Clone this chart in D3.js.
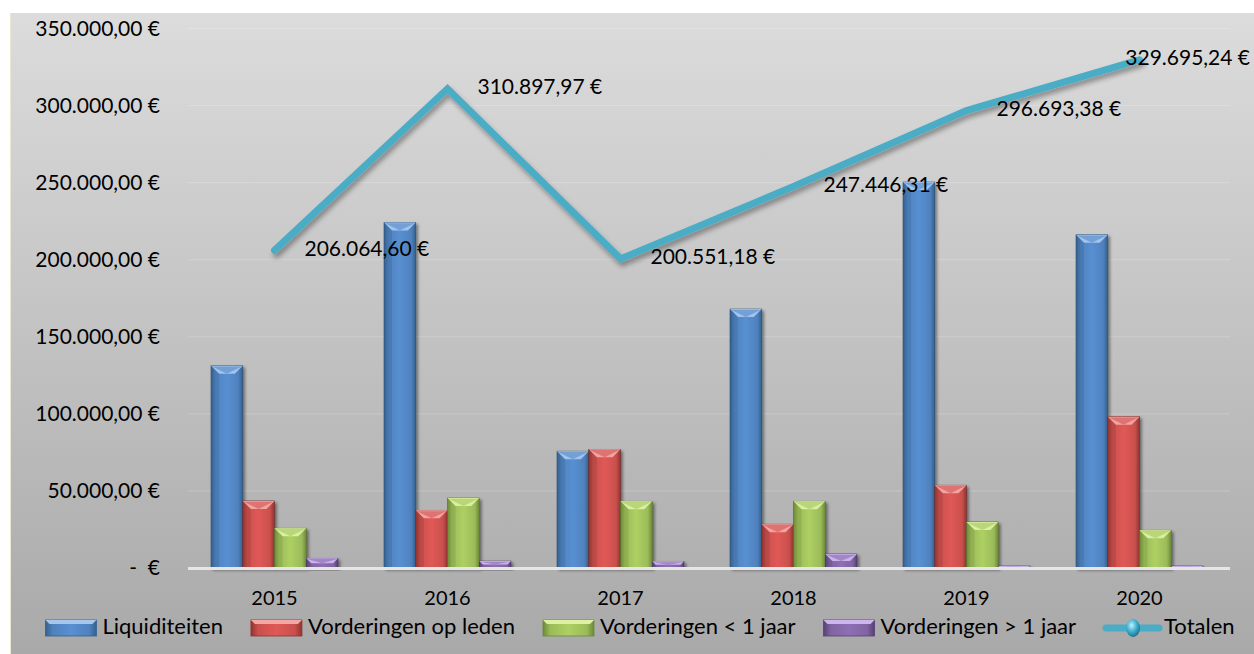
<!DOCTYPE html>
<html>
<head>
<meta charset="utf-8">
<script src="https://cdn.jsdelivr.net/npm/d3@7"></script>
<style>
  html, body { margin: 0; padding: 0; background: #fff; }
  svg { display: block; font-family: Lato, "Open Sans", sans-serif; }
  .tick text { white-space: pre; }
</style>
</head>
<body>
<svg id="chart" width="1254" height="654"></svg>
<script>
// Values (euro).
const YEARS = ['2015', '2016', '2017', '2018', '2019', '2020'];
const LIQUIDITEITEN = [131200, 224200, 75800, 168000, 250400, 216200];
const VORDERINGEN_LEDEN = [43500, 37400, 77000, 28400, 53700, 98200];
const VORDERINGEN_KORT = [25800, 45400, 43300, 43300, 29900, 24500];
const VORDERINGEN_LANG = [6300, 4500, 4300, 9100, 1300, 1300];
const TOTALEN = [206064.60, 310897.97, 200551.18, 247446.31, 296693.38, 329695.24];
const Y_TICKS = [0, 50000, 100000, 150000, 200000, 250000, 300000, 350000];

const SERIES = [
  { name: 'Liquiditeiten', values: LIQUIDITEITEN, base: '#4f81bd', light: '#a7c6ee', dark: '#33608f' },
  { name: 'Vorderingen op leden', values: VORDERINGEN_LEDEN, base: '#c9504d', light: '#f2a9a6', dark: '#8f3431' },
  { name: 'Vorderingen < 1 jaar', values: VORDERINGEN_KORT, base: '#9bbb59', light: '#dcf1a4', dark: '#6c8a36' },
  { name: 'Vorderingen > 1 jaar', values: VORDERINGEN_LANG, base: '#8064a2', light: '#cdb6ee', dark: '#574075' },
];
const LINE_COLOR = '#4bacc6';

const W = 1254, H = 654;
const PLOT = { left: 188, right: 1226, top: 28.5, bottom: 568 };

const nl = d3.formatLocale({ decimal: ',', thousands: '.', grouping: [3], currency: ['', ''] });
const fmt = nl.format(',.2f');
const euro = (v) => (v === 0 ? '-  €' : `${fmt(v)} €`);

const svg = d3.select('#chart');
const defs = svg.append('defs');

// chart background: grey vertical gradient
const bg = defs.append('linearGradient').attr('id', 'bg').attr('x1', 0).attr('y1', 0).attr('x2', 0).attr('y2', 1);
bg.append('stop').attr('offset', '0%').attr('stop-color', '#dcdcdc');
bg.append('stop').attr('offset', '100%').attr('stop-color', '#a9a9a9');

// horizontal shading per series, gives the bevelled column look
SERIES.forEach((s, i) => {
  const g = defs.append('linearGradient').attr('id', `bar${i}`).attr('x1', 0).attr('y1', 0).attr('x2', 1).attr('y2', 0);
  g.append('stop').attr('offset', '0%').attr('stop-color', s.dark);
  g.append('stop').attr('offset', '14%').attr('stop-color', s.base);
  g.append('stop').attr('offset', '50%').attr('stop-color', d3.color(s.base).brighter(0.3));
  g.append('stop').attr('offset', '86%').attr('stop-color', s.base);
  g.append('stop').attr('offset', '100%').attr('stop-color', s.dark);
});

const shadow = defs.append('filter').attr('id', 'shadow').attr('x', '-20%').attr('y', '-20%').attr('width', '150%').attr('height', '150%');
shadow.append('feDropShadow').attr('dx', 2).attr('dy', 2).attr('stdDeviation', 1.6).attr('flood-color', '#000').attr('flood-opacity', 0.45);
const lineShadow = defs.append('filter').attr('id', 'lineShadow').attr('x', '-10%').attr('y', '-10%').attr('width', '120%').attr('height', '130%');
lineShadow.append('feDropShadow').attr('dx', 2).attr('dy', 4).attr('stdDeviation', 2.5).attr('flood-color', '#000').attr('flood-opacity', 0.35);

const sphere = defs.append('radialGradient').attr('id', 'sphere').attr('cx', '40%').attr('cy', '35%').attr('r', '65%');
sphere.append('stop').attr('offset', '0%').attr('stop-color', '#bff0fb');
sphere.append('stop').attr('offset', '55%').attr('stop-color', '#3fb0d0');
sphere.append('stop').attr('offset', '100%').attr('stop-color', '#1f7390');

svg.append('rect').attr('width', W).attr('height', H).attr('fill', '#fff');
svg.append('rect').attr('x', 11).attr('y', 13).attr('width', W - 11).attr('height', H - 13).attr('fill', 'url(#bg)');
svg.append('line').attr('x1', 10.5).attr('x2', 10.5).attr('y1', 13).attr('y2', H).attr('stroke', '#ebe6d6');

// scales
const x0 = d3.scaleBand().domain(YEARS).range([PLOT.left, PLOT.right]).paddingInner(0.266).paddingOuter(0.133);
const x1 = d3.scaleBand().domain(d3.range(SERIES.length)).range([0, x0.bandwidth()]);
const y = d3.scaleLinear().domain([0, 350000]).range([PLOT.bottom, PLOT.top]);

// gridlines
svg.append('g')
  .selectAll('line')
  .data(Y_TICKS.filter((t) => t > 0))
  .join('line')
  .attr('x1', PLOT.left)
  .attr('x2', 1230)
  .attr('y1', (d) => y(d))
  .attr('y2', (d) => y(d))
  .attr('stroke', 'rgba(255,255,255,0.2)')
  .attr('stroke-width', 1);

// y axis labels
const yAxis = svg.append('g')
  .attr('transform', 'translate(160,0)')
  .call(d3.axisLeft(y).tickValues(Y_TICKS).tickSize(0).tickPadding(0).tickFormat(euro));
yAxis.select('.domain').remove();
yAxis.selectAll('text').attr('fill', '#000').style('font-size', '21px').style('font-family', 'Lato');

// bars
const groups = svg.append('g')
  .selectAll('g.year')
  .data(YEARS)
  .join('g')
  .attr('class', 'year')
  .attr('transform', (d) => `translate(${x0(d)},0)`);

const bars = groups.selectAll('g.bar')
  .data((yr, j) => SERIES.map((s, i) => ({ i, s, v: s.values[j] })))
  .join('g')
  .attr('class', 'bar')
  .attr('filter', 'url(#shadow)');

function bevel(d) {
  const bx = x1(d.i), bw = x1.bandwidth();
  const top = y(d.v), h = PLOT.bottom - top;
  const b = Math.min(8, h / 2, bw / 3);
  return { bx, bw, top, h, b };
}

bars.append('rect')
  .attr('x', (d) => x1(d.i))
  .attr('y', (d) => y(d.v))
  .attr('width', x1.bandwidth())
  .attr('height', (d) => PLOT.bottom - y(d.v))
  .attr('fill', (d) => `url(#bar${d.i})`)
  .attr('stroke', (d) => d3.color(d.s.dark).darker(0.6))
  .attr('stroke-width', 0.6);

// top chamfer: light trapezoid with a darker V underneath
bars.append('path')
  .attr('d', (d) => {
    const { bx, bw, top, b } = bevel(d);
    return `M${bx},${top} L${bx + bw},${top} L${bx + bw - b},${top + b} L${bx + b},${top + b} Z`;
  })
  .attr('fill', (d) => d.s.light)
  .attr('opacity', 0.95);
bars.append('path')
  .attr('d', (d) => {
    const { bx, bw, top, b } = bevel(d);
    return `M${bx + 1},${top + 0.8} L${bx + bw / 2},${top + b} L${bx + bw - 1},${top + 0.8}`;
  })
  .attr('fill', (d) => d3.color(d.s.base).brighter(0.15))
  .attr('opacity', 0.6);
bars.append('path')
  .attr('d', (d) => {
    const { bx, bw, top, h, b } = bevel(d);
    return `M${bx},${top} L${bx + b},${top + b} L${bx + b},${top + h} L${bx},${top + h} Z`;
  })
  .attr('fill', (d) => d.s.dark)
  .attr('opacity', 0.25);

// baseline
svg.append('line')
  .attr('x1', PLOT.left).attr('x2', 1230)
  .attr('y1', PLOT.bottom + 0.5).attr('y2', PLOT.bottom + 0.5)
  .attr('stroke', '#e6e6e6').attr('stroke-width', 3);

// x labels
svg.append('g')
  .selectAll('text')
  .data(YEARS)
  .join('text')
  .attr('x', (d) => x0(d) + x0.bandwidth() / 2)
  .attr('y', 600)
  .attr('text-anchor', 'middle')
  .attr('dominant-baseline', 'middle')
  .style('font-size', '20px')
  .attr('fill', '#000')
  .text((d) => d);

// Totalen line
const lineGen = d3.line()
  .x((d, j) => x0(YEARS[j]) + x0.bandwidth() / 2)
  .y((d) => y(d));
svg.append('path')
  .datum(TOTALEN)
  .attr('d', lineGen)
  .attr('fill', 'none')
  .attr('stroke', LINE_COLOR)
  .attr('stroke-width', 7)
  .attr('stroke-linecap', 'round')
  .attr('stroke-linejoin', 'miter')
  .attr('filter', 'url(#lineShadow)');

// data labels, pushed left when they would run off the right edge
const labels = svg.append('g')
  .selectAll('text')
  .data(TOTALEN)
  .join('text')
  .attr('y', (d) => y(d))
  .attr('dominant-baseline', 'middle')
  .style('font-size', '21px')
  .attr('fill', '#000')
  .text((d) => euro(d));
labels.attr('x', function (d, j) {
  const px = x0(YEARS[j]) + x0.bandwidth() / 2 + 30;
  const w = this.getComputedTextLength();
  return Math.min(px, 1250 - w);
});

// legend
const legend = svg.append('g').attr('class', 'legend');
const items = [...SERIES.map((s, i) => ({ name: s.name, i })), { name: 'Totalen', line: true }];
let lx = 0;
items.forEach((it) => {
  const g = legend.append('g').attr('transform', `translate(${lx},0)`);
  if (it.line) {
    g.append('line').attr('x1', 2).attr('x2', 55).attr('y1', 0).attr('y2', 0)
      .attr('stroke', LINE_COLOR).attr('stroke-width', 7).attr('stroke-linecap', 'round');
    g.append('ellipse').attr('cx', 29).attr('cy', 0).attr('rx', 7).attr('ry', 9).attr('fill', 'url(#sphere)');
  } else {
    const s = SERIES[it.i];
    g.append('rect').attr('x', 0).attr('y', -8).attr('width', 51).attr('height', 16)
      .attr('fill', `url(#bar${it.i})`).attr('stroke', s.dark).attr('stroke-width', 0.8);
    g.append('path').attr('d', 'M0,-8 L51,-8 L47,-4 L4,-4 Z').attr('fill', s.light);
  }
  const t = g.append('text').attr('x', it.line ? 60 : 57).attr('y', 0)
    .attr('dominant-baseline', 'middle').style('font-size', '22px').attr('fill', '#000').text(it.name);
  lx += (it.line ? 60 : 57) + t.node().getComputedTextLength() + 28;
});
const legendW = lx - 28;
legend.attr('transform', `translate(${640 - legendW / 2},628)`);
</script>
</body>
</html>
